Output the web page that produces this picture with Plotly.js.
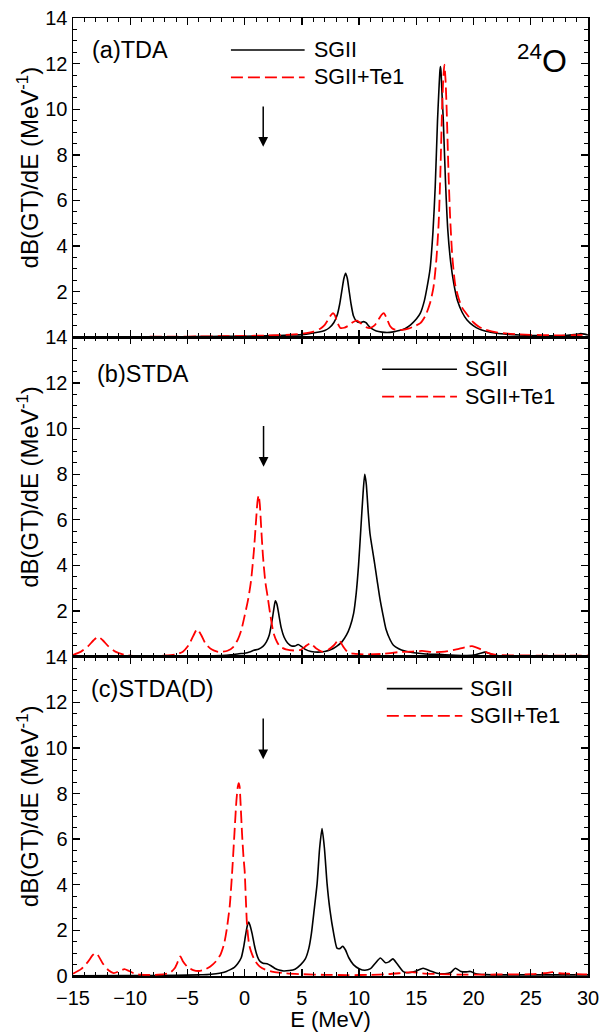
<!DOCTYPE html>
<html>
<head>
<meta charset="utf-8">
<script src="https://cdn.plot.ly/plotly-3.0.1.min.js"></script>
<style>html,body{margin:0;padding:0;background:#fff;}#chart{width:608px;height:1032px;}</style>
</head>
<body>
<div id="chart"></div>
<script>
// ---------- Panel (a) TDA ----------
const aE_sg = [-8.3,-6,-4,-2,0,2,3,4,5,5.5,6,6.5,7,7.4,7.8,8.1,8.3,8.5,8.67,8.82,8.97,9.12,9.3,9.5,9.75,10.0,10.2,10.4,10.6,10.8,11.1,11.5,12.0,12.44,13.0,13.5,14.0,14.5,15.0,15.35,15.7,15.94,16.2,16.45,16.65,16.85,16.95,17.05,17.1,17.15,17.25,17.35,17.55,17.75,18.0,18.27,18.6,19.0,19.43,20.0,20.5,21,22,23,24,25,26,27,28,28.8,29.3,29.7,30];
const aV_sg = [0.02,0.02,0.03,0.04,0.05,0.07,0.08,0.1,0.12,0.15,0.19,0.23,0.3,0.42,0.65,1.0,1.45,2.07,2.58,2.81,2.58,2.07,1.45,0.95,0.72,0.65,0.66,0.69,0.64,0.52,0.38,0.28,0.23,0.21,0.24,0.3,0.38,0.55,0.8,1.06,1.6,2.2,3.0,4.6,6.6,9.5,10.6,11.6,11.87,11.7,10.6,9.6,6.8,4.7,3.3,2.37,1.6,1.1,0.76,0.5,0.36,0.28,0.18,0.13,0.1,0.08,0.07,0.07,0.08,0.12,0.16,0.14,0.1];
const aE_te = [-8.3,-6,-4,-2,0,2,4,5,6,6.6,7.0,7.3,7.55,7.72,7.9,8.1,8.36,8.7,9.1,9.45,9.82,10.2,10.6,10.98,11.35,11.7,11.95,12.15,12.4,12.7,13.0,13.32,13.8,14.3,14.8,15.35,15.8,16.2,16.5,16.75,16.95,17.1,17.25,17.35,17.45,17.55,17.65,17.8,17.95,18.15,18.4,18.7,19.0,19.43,20.0,20.5,21,22,23,24,25,26,27,28,29,30];
const aV_te = [0.03,0.03,0.04,0.05,0.06,0.08,0.12,0.16,0.25,0.38,0.55,0.78,0.98,1.06,0.95,0.65,0.41,0.42,0.52,0.66,0.73,0.6,0.45,0.41,0.52,0.78,0.98,1.06,0.85,0.5,0.36,0.32,0.33,0.38,0.48,0.62,0.95,1.5,2.2,3.4,5.0,7.2,10.0,11.3,11.95,11.3,10.0,7.4,5.3,3.5,2.3,1.7,1.3,1.0,0.65,0.45,0.34,0.22,0.16,0.13,0.11,0.1,0.09,0.09,0.1,0.12];

// ---------- Panel (b) STDA ----------
const bE_sg = [-15,-10,-6,-4,-3,-2,-1.2,-0.5,0,0.5,0.8,1.2,1.6,1.9,2.15,2.4,2.55,2.68,2.82,3.0,3.2,3.45,3.75,4.1,4.4,4.67,4.95,5.3,5.8,6.4,7.0,7.5,8.0,8.5,8.9,9.2,9.52,9.75,9.95,10.15,10.35,10.49,10.62,10.8,10.95,11.13,11.35,11.57,11.8,12.06,12.35,12.73,13.0,13.46,14.0,14.77,15.8,17.0,18.0,19.14,20.0,20.6,21.0,21.5,22.2,24,27,30];
const bV_sg = [0.01,0.01,0.02,0.03,0.04,0.05,0.08,0.13,0.15,0.22,0.28,0.33,0.45,0.65,0.95,1.6,2.1,2.45,2.3,1.8,1.25,0.85,0.6,0.47,0.47,0.53,0.45,0.32,0.23,0.2,0.23,0.3,0.44,0.65,0.95,1.3,1.9,2.8,4.0,5.6,7.2,8.0,7.6,6.3,5.4,4.8,4.1,3.36,2.6,1.9,1.2,0.72,0.5,0.35,0.25,0.17,0.12,0.1,0.07,0.05,0.07,0.15,0.2,0.12,0.04,0.02,0.02,0.02];
const bE_te = [-15,-14.3,-13.7,-13.2,-12.8,-12.4,-11.9,-11.3,-10.5,-9.4,-8,-7,-6,-5.4,-4.9,-4.5,-4.16,-3.8,-3.4,-2.9,-2.4,-2.0,-1.5,-1.0,-0.6,-0.3,0.0,0.3,0.55,0.8,1.0,1.12,1.22,1.32,1.45,1.6,1.8,2.01,2.25,2.53,2.85,3.12,3.6,4.3,4.9,5.3,5.74,6.2,6.76,7.3,7.8,8.22,8.6,9.0,9.53,10.5,12,13.5,14.5,15.5,16.5,17.5,18.5,19.3,19.87,20.5,21.2,22,25,30];
const bV_te = [0.08,0.22,0.45,0.72,0.87,0.72,0.45,0.22,0.08,0.03,0.03,0.05,0.1,0.22,0.5,0.9,1.2,0.95,0.55,0.32,0.22,0.21,0.26,0.42,0.75,1.15,1.8,2.5,3.3,4.6,6.0,6.8,7.08,6.7,5.6,4.4,3.3,2.62,1.8,1.02,0.62,0.43,0.32,0.27,0.3,0.45,0.58,0.38,0.22,0.3,0.5,0.74,0.45,0.2,0.13,0.1,0.12,0.2,0.22,0.25,0.2,0.22,0.32,0.42,0.46,0.35,0.18,0.08,0.05,0.05];

// ---------- Panel (c) STDA(D) ----------
const cE_sg = [-15,-10,-6,-4,-3.3,-2.5,-2.0,-1.6,-1.25,-0.9,-0.6,-0.3,-0.09,0.05,0.15,0.25,0.35,0.45,0.65,0.85,1.02,1.2,1.37,1.6,1.96,2.3,2.7,3.0,3.41,3.9,4.4,4.9,5.3,5.6,5.83,6.05,6.33,6.55,6.76,6.97,7.2,7.45,7.78,8.07,8.3,8.57,8.8,9.1,9.5,10.0,10.5,11.0,11.4,11.86,12.3,12.6,12.95,13.3,13.9,14.5,15.0,15.59,16.2,16.81,17.5,18.0,18.41,18.9,19.3,19.72,20.2,21,23,25,27,30];
const cV_sg = [0.01,0.02,0.03,0.05,0.06,0.1,0.14,0.2,0.28,0.38,0.55,0.8,1.27,1.7,2.0,2.25,2.37,2.25,1.86,1.35,1.0,0.75,0.63,0.56,0.54,0.45,0.32,0.26,0.22,0.24,0.3,0.5,0.75,1.2,1.86,2.8,4.05,5.6,6.46,5.6,4.05,2.9,1.86,1.22,1.2,1.3,1.15,0.8,0.5,0.32,0.25,0.32,0.55,0.79,0.58,0.62,0.75,0.55,0.18,0.15,0.22,0.34,0.22,0.12,0.1,0.15,0.34,0.2,0.18,0.2,0.1,0.06,0.05,0.05,0.05,0.05];
const cE_te = [-15,-14.3,-13.7,-13.3,-13.05,-12.8,-12.4,-11.9,-11.45,-10.9,-10.51,-10.1,-9.6,-9.11,-8,-7,-6.5,-6.1,-5.82,-5.62,-5.4,-5.0,-4.5,-4.0,-3.5,-3.0,-2.5,-2.1,-1.8,-1.55,-1.3,-1.1,-0.9,-0.72,-0.6,-0.52,-0.44,-0.37,-0.23,-0.1,0.0,0.1,0.21,0.4,0.65,0.93,1.3,1.8,2.5,3.5,5,7,9,11,12.5,13.5,14.6,15.5,17,19,21,23,25,26.2,26.9,27.5,28.3,29,30];
const cV_te = [0.1,0.3,0.62,0.9,1.01,0.9,0.55,0.25,0.13,0.22,0.3,0.22,0.1,0.06,0.05,0.08,0.15,0.35,0.65,0.86,0.65,0.4,0.26,0.22,0.28,0.42,0.65,0.95,1.4,2.1,3.1,4.5,6.2,7.7,8.3,8.46,8.3,7.7,6.25,5.2,4.6,3.4,2.2,1.35,0.95,0.65,0.42,0.28,0.18,0.12,0.08,0.05,0.04,0.05,0.08,0.12,0.17,0.12,0.08,0.06,0.06,0.07,0.08,0.12,0.17,0.12,0.1,0.08,0.07];

// ---------- Labels ----------
const seriesNames = ['SGII', 'SGII+Te1'];
const panelLabels = ['(a)TDA', '(b)STDA', '(c)STDA(D)'];
const yTitle = '&nbsp;&nbsp;&nbsp;dB(GT)/dE (MeV<sup>-1</sup>)';
const xTitle = 'E (MeV)';
const yTickValsUpper = [2,4,6,8,10,12,14];
const yTickValsLower = [0,2,4,6,8,10,12,14];
const arrowE = [1.62, 1.65, 1.62];
const arrowTop = [10.19, 10.18, 11.36];
const arrowTip = [8.36, 8.33, 9.5];

const FONT = 'Liberation Sans, Arial, sans-serif';
const blackLine = {color:'#000', width:1.6, shape:'spline', smoothing:0.6};
const redLine = {color:'#ff0000', width:1.8, dash:'12px,5px', shape:'spline', smoothing:0.6};

function tr(x, y, ax, line, name){
  return {x:x, y:y, xaxis:'x'+ax, yaxis:'y'+ax, type:'scatter', mode:'lines', line:line, name:name, hoverinfo:'skip'};
}
const data = [
  tr(aE_sg, aV_sg, '', blackLine, seriesNames[0]),
  tr(aE_te, aV_te, '', redLine, seriesNames[1]),
  tr(bE_sg, bV_sg, '2', blackLine, seriesNames[0]),
  tr(bE_te, bV_te, '2', redLine, seriesNames[1]),
  tr(cE_sg, cV_sg, '3', blackLine, seriesNames[0]),
  tr(cE_te, cV_te, '3', redLine, seriesNames[1])
];

function xax(anchor, labels){
  return {domain:[0,1], anchor:anchor, range:[-15,30], tickmode:'linear', tick0:0, dtick:5,
    ticks:'inside', ticklen:7, tickwidth:1.3, tickcolor:'#000', mirror:'allticks',
    showline:true, linewidth:1.5, linecolor:'#000', showgrid:false, zeroline:false,
    showticklabels:labels, ticklabelstandoff:3, tickfont:{family:FONT, size:20, color:'#000'},
    minor:{ticks:'inside', ticklen:4, tickmode:'linear', tick0:0, dtick:1, tickwidth:1, tickcolor:'#000', showgrid:false}};
}
function yax(dom, anchor, vals){
  return {domain:dom, anchor:anchor, range:[0,14], tickmode:'array', tickvals:vals,
    ticks:'inside', ticklen:7, tickwidth:1.3, tickcolor:'#000', mirror:'allticks',
    showline:true, linewidth:1.5, linecolor:'#000', showgrid:false, zeroline:false,
    tickfont:{family:FONT, size:20, color:'#000'},
    minor:{ticks:'inside', ticklen:4, tickmode:'linear', tick0:0, dtick:0.5, tickwidth:1, tickcolor:'#000', showgrid:false},
    title:{text:yTitle, font:{family:FONT, size:24, color:'#000'}, standoff:0}};
}

const layout = {
  width:608, height:1032,
  margin:{l:73, r:20, t:18, b:56},
  paper_bgcolor:'#fff', plot_bgcolor:'#fff',
  font:{family:FONT, size:20, color:'#000'},
  showlegend:false,
  xaxis: xax('y', false),
  xaxis2: Object.assign(xax('y2', false), {matches:'x'}),
  xaxis3: Object.assign(xax('y3', true), {matches:'x', title:{text:xTitle, font:{family:FONT, size:22, color:'#000'}, standoff:0}}),
  yaxis: yax([2/3,1], 'x', yTickValsUpper),
  yaxis2: yax([1/3,2/3], 'x2', yTickValsUpper),
  yaxis3: yax([0,1/3], 'x3', yTickValsLower),
  shapes:[], annotations:[]
};

const axSuffix = ['', '2', '3'];
const labelE = [-13.48, -13.04, -13.62];
const labelV = [12.6, 12.4, 12.6];
const legLine0 = [-1.2, 12.01, 12.42];
const legLine1 = [5.24, 18.55, 19.02];
const legText = [5.92, 19.11, 19.53];
const legRows = [12.6, 11.4];

for (let i = 0; i < 3; i++) {
  const xr = 'x' + axSuffix[i], yr = 'y' + axSuffix[i];
  layout.annotations.push({xref:xr, yref:yr, x:labelE[i], y:labelV[i], text:panelLabels[i], showarrow:false,
    xanchor:'left', yanchor:'middle', font:{family:FONT, size:23.5, color:'#000'}});
  layout.annotations.push({xref:xr, yref:yr, axref:xr, ayref:yr, x:arrowE[i], y:arrowTip[i], ax:arrowE[i], ay:arrowTop[i],
    text:'', showarrow:true, arrowhead:2, arrowsize:1.3, arrowwidth:1.5, arrowcolor:'#000'});
  for (let k = 0; k < 2; k++) {
    layout.shapes.push({type:'line', xref:xr, yref:yr, x0:legLine0[i], x1:legLine1[i], y0:legRows[k], y1:legRows[k],
      line: k === 0 ? {color:'#000', width:1.6} : {color:'#ff0000', width:1.8, dash:'12px,5px'}});
    layout.annotations.push({xref:xr, yref:yr, x:legText[i], y:legRows[k], text:seriesNames[k], showarrow:false,
      xanchor:'left', yanchor:'middle', font:{family:FONT, size:21.5, color:'#000'}});
  }
}
layout.annotations.push({xref:'x', yref:'y', x:28.3, y:12.2, text:'<sup>24</sup>O', showarrow:false,
  xanchor:'right', yanchor:'middle', font:{family:FONT, size:32, color:'#000'}});

Plotly.newPlot('chart', data, layout, {staticPlot:true, displayModeBar:false});
</script>
</body>
</html>
